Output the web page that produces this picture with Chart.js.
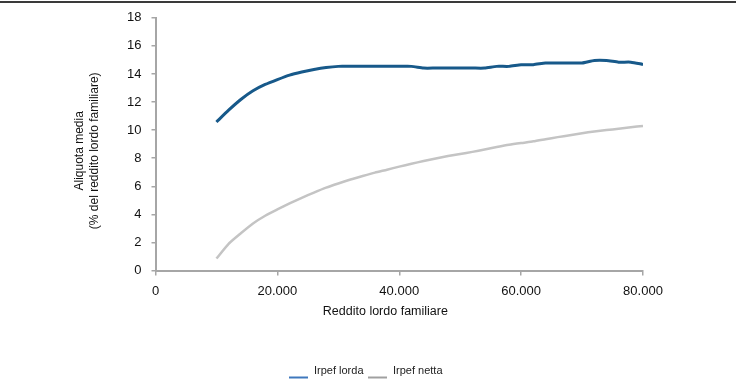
<!DOCTYPE html>
<html>
<head>
<meta charset="utf-8">
<script src="https://cdn.jsdelivr.net/npm/chart.js@4"></script>
<style>
  html, body { margin: 0; padding: 0; background: #fff; }
  #wrap { width: 740px; height: 389px; }
</style>
</head>
<body>
<div id="wrap"><canvas id="chartAliquota"></canvas></div>
<script>
// Aliquota media Irpef per reddito lordo familiare

// dati
const reddito = [10000, 12000, 14000, 16000, 18000, 20000, 22000, 24000, 26000, 28000,
  30000, 32000, 34000, 36000, 38000, 40000, 42000, 44000, 46000, 48000,
  50000, 52000, 54000, 56000, 58000, 60000, 62000, 64000, 66000, 68000,
  70000, 72000, 74000, 76000, 78000, 80000];
const irpefLorda = [10.58, 11.42, 12.18, 12.8, 13.25, 13.6, 13.92, 14.14, 14.32, 14.46,
  14.54, 14.54, 14.54, 14.54, 14.54, 14.54, 14.54, 14.42, 14.42, 14.42,
  14.42, 14.42, 14.42, 14.54, 14.54, 14.66, 14.66, 14.78, 14.78, 14.78,
  14.78, 14.96, 14.96, 14.84, 14.84, 14.68];
const irpefNetta = [0.85, 1.9, 2.65, 3.35, 3.9, 4.35, 4.78, 5.18, 5.55, 5.9,
  6.2, 6.48, 6.73, 6.97, 7.18, 7.4, 7.6, 7.8, 7.98, 8.15,
  8.3, 8.45, 8.62, 8.79, 8.95, 9.08, 9.2, 9.35, 9.5, 9.64,
  9.78, 9.9, 10.0, 10.1, 10.2, 10.3];
const serie = ['Irpef lorda', 'Irpef netta'];
const xTicks = [0, 20000, 40000, 60000, 80000];
const yTicks = [0, 2, 4, 6, 8, 10, 12, 14, 16, 18];

const FONT = '"Liberation Sans", Arial, sans-serif';
const axisGray = '#a6a6a6';

// separatore delle migliaia all'italiana
const fmt = v => String(v).replace(/\B(?=(\d{3})+(?!\d))/g, '.');

const toPts = ys => reddito.map((x, i) => ({ x, y: ys[i] }));

// spazi finali per spostare i titoli come nell'originale (non centrati sull'asse)
const pad = n => '\u00a0'.repeat(n);

// marcatore legenda: trattino in basso, stile Excel
function legendMark(color) {
  const c = document.createElement('canvas');
  c.width = 19; c.height = 18;
  const g = c.getContext('2d');
  g.fillStyle = color;
  g.fillRect(0, 15, 19, 2);
  return c;
}
const marks = [legendMark('#3f78bd'), legendMark('#a0a0a0')];

// riga scura in cima alla pagina
const topRule = {
  id: 'topRule',
  beforeDraw(chart) {
    const ctx = chart.ctx;
    ctx.save();
    ctx.fillStyle = '#3a3a3a';
    ctx.fillRect(0, 1, 736, 2);
    ctx.restore();
  }
};

new Chart(document.getElementById('chartAliquota'), {
  type: 'line',
  data: {
    datasets: [
      { label: serie[0], data: toPts(irpefLorda), borderColor: '#17598a', borderWidth: 3,
        pointRadius: 0, tension: 0.2, fill: false },
      { label: serie[1], data: toPts(irpefNetta), borderColor: '#c4c4c4', borderWidth: 2.5,
        pointRadius: 0, tension: 0.2, fill: false }
    ]
  },
  options: {
    responsive: true,
    maintainAspectRatio: false,
    animation: false,
    layout: { padding: { top: 10, left: 62, right: 70, bottom: 3 } },
    plugins: {
      tooltip: { enabled: false },
      legend: {
        position: 'bottom',
        labels: {
          usePointStyle: true,
          pointStyleWidth: 19,
          padding: 5,
          color: '#222',
          font: { family: FONT, size: 11 },
          generateLabels: chart => chart.data.datasets.map((d, i) => ({
            text: d.label, pointStyle: marks[i], datasetIndex: i,
            fontColor: '#222', lineWidth: 0, strokeStyle: 'transparent', fillStyle: 'transparent'
          }))
        }
      }
    },
    scales: {
      x: {
        type: 'linear', min: 0, max: 80000,
        afterBuildTicks: s => { s.ticks = xTicks.map(v => ({ value: v })); },
        afterFit: s => { s.height = 89.5; },
        grid: { display: true, drawOnChartArea: false, drawTicks: true, tickLength: 5, color: axisGray, lineWidth: 1.5 },
        border: { display: true, color: axisGray, width: 2 },
        ticks: { color: '#111', padding: 8, maxRotation: 0, font: { family: FONT, size: 13 }, callback: v => fmt(v) },
        title: { display: true, text: 'Reddito lordo familiare' + pad(8), color: '#111',
          font: { family: FONT, size: 12.5 }, padding: { top: 4, bottom: 41 } }
      },
      y: {
        min: 0, max: 18,
        afterBuildTicks: s => { s.ticks = yTicks.map(v => ({ value: v })); },
        afterFit: s => { s.width = 93.5; },
        grid: { display: true, drawOnChartArea: false, drawTicks: true, tickLength: 4, color: axisGray, lineWidth: 1.5 },
        border: { display: true, color: axisGray, width: 2 },
        ticks: { color: '#111', padding: 10, font: { family: FONT, size: 13 } },
        title: { display: true, text: ['Aliquota media' + pad(4), '(% del reddito lordo familiare)' + pad(4)], color: '#111',
          font: { family: FONT, size: 12, lineHeight: 1.25 }, padding: { top: 10, bottom: 0 } }
      },
      // asse vuoto a destra: solo spazio, così l'area del grafico finisce a 80.000
      spazio: {
        position: 'right', display: true,
        grid: { display: false }, border: { display: false }, ticks: { display: false },
        afterFit: s => { s.width = 27; }
      }
    }
  },
  plugins: [topRule]
});
</script>
</body>
</html>
